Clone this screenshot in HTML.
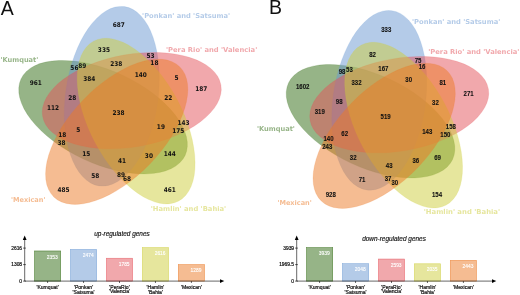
<!DOCTYPE html>
<html><head><meta charset="utf-8"><title>Venn diagrams</title>
<style>
html,body{margin:0;padding:0;background:#fff;overflow:hidden}
svg{display:block;will-change:transform;filter:blur(0.4px)}
.nA{font:bold 6.45px "DejaVu Sans Condensed","DejaVu Sans","Liberation Sans",sans-serif;fill:#111;text-anchor:middle}
.nB{font:bold 6.6px "Liberation Sans",sans-serif;fill:#111;text-anchor:middle;stroke:#111;stroke-width:0.08px}
.lab{font:bold 6.75px "DejaVu Sans","Liberation Sans",sans-serif}
.big{font:19.5px "Liberation Sans",sans-serif;fill:#111}
.ttl{font:italic 6.45px "Liberation Sans",sans-serif;fill:#111;stroke:#111;stroke-width:0.15px}
.tick{font:4.9px "Liberation Sans",sans-serif;fill:#111;stroke:#111;stroke-width:0.2px}
.val{font:4.9px "Liberation Sans",sans-serif;fill:#fff;stroke:#fff;stroke-width:0.12px}
.cat{font:5.1px "Liberation Sans",sans-serif;fill:#111;stroke:#111;stroke-width:0.2px}
</style></head><body>
<svg width="520" height="295" viewBox="0 0 520 295">
<rect width="520" height="295" fill="#fff"/>
<g>
<ellipse rx="90.51" ry="46.23" transform="translate(103.06 117.18) rotate(25)" fill="rgb(45,105,15)" fill-opacity="0.5" stroke="rgb(45,105,15)" stroke-opacity="0.3" stroke-width="0.5"/>
<ellipse rx="90.51" ry="46.23" transform="translate(111.82 96.25) rotate(98)" fill="rgb(105,152,210)" fill-opacity="0.5" stroke="rgb(105,152,210)" stroke-opacity="0.3" stroke-width="0.5"/>
<ellipse rx="90.51" ry="46.23" transform="translate(131.77 100.63) rotate(170)" fill="rgb(228,82,90)" fill-opacity="0.5" stroke="rgb(228,82,90)" stroke-opacity="0.3" stroke-width="0.5"/>
<ellipse rx="90.51" ry="46.23" transform="translate(136.15 121.07) rotate(62)" fill="rgb(205,205,60)" fill-opacity="0.5" stroke="rgb(205,205,60)" stroke-opacity="0.3" stroke-width="0.5"/>
<ellipse rx="90.51" ry="46.23" transform="translate(116.69 131.78) rotate(134)" fill="rgb(235,122,38)" fill-opacity="0.5" stroke="rgb(235,122,38)" stroke-opacity="0.3" stroke-width="0.5"/>
</g>
<g>
<ellipse rx="90.51" ry="46.23" transform="translate(370.53 121.22) rotate(25)" fill="rgb(45,105,15)" fill-opacity="0.5" stroke="rgb(45,105,15)" stroke-opacity="0.3" stroke-width="0.5"/>
<ellipse rx="90.51" ry="46.23" transform="translate(379.29 100.29) rotate(98)" fill="rgb(105,152,210)" fill-opacity="0.5" stroke="rgb(105,152,210)" stroke-opacity="0.3" stroke-width="0.5"/>
<ellipse rx="90.51" ry="46.23" transform="translate(399.24 104.67) rotate(170)" fill="rgb(228,82,90)" fill-opacity="0.5" stroke="rgb(228,82,90)" stroke-opacity="0.3" stroke-width="0.5"/>
<ellipse rx="90.51" ry="46.23" transform="translate(403.62 125.11) rotate(62)" fill="rgb(205,205,60)" fill-opacity="0.5" stroke="rgb(205,205,60)" stroke-opacity="0.3" stroke-width="0.5"/>
<ellipse rx="90.51" ry="46.23" transform="translate(384.16 135.82) rotate(134)" fill="rgb(235,122,38)" fill-opacity="0.5" stroke="rgb(235,122,38)" stroke-opacity="0.3" stroke-width="0.5"/>
</g>
<g>
<text class="lab" x="0.5" y="62.4" fill="rgb(45,105,15)" fill-opacity="0.5" textLength="37.8" lengthAdjust="spacingAndGlyphs">'Kumquat'</text>
<text class="lab" x="142.1" y="18.0" fill="rgb(105,152,210)" fill-opacity="0.5" textLength="88.0" lengthAdjust="spacingAndGlyphs">'Ponkan' and 'Satsuma'</text>
<text class="lab" x="166.0" y="52.1" fill="rgb(228,82,90)" fill-opacity="0.5" textLength="91.2" lengthAdjust="spacingAndGlyphs">'Pera Rio' and 'Valencia'</text>
<text class="lab" x="150.8" y="211.0" fill="rgb(205,205,60)" fill-opacity="0.5" textLength="75.4" lengthAdjust="spacingAndGlyphs">'Hamlin' and 'Bahia'</text>
<text class="lab" x="11.0" y="201.9" fill="rgb(235,122,38)" fill-opacity="0.5" textLength="34.4" lengthAdjust="spacingAndGlyphs">'Mexican'</text>
<text class="lab" x="256.9" y="131.1" fill="rgb(45,105,15)" fill-opacity="0.5" textLength="38.0" lengthAdjust="spacingAndGlyphs">'Kumquat'</text>
<text class="lab" x="412.0" y="23.7" fill="rgb(105,152,210)" fill-opacity="0.5" textLength="88.3" lengthAdjust="spacingAndGlyphs">'Ponkan' and 'Satsuma'</text>
<text class="lab" x="428.2" y="54.3" fill="rgb(228,82,90)" fill-opacity="0.5" textLength="91.2" lengthAdjust="spacingAndGlyphs">'Pera Rio' and 'Valencia'</text>
<text class="lab" x="423.7" y="213.5" fill="rgb(205,205,60)" fill-opacity="0.5" textLength="76.4" lengthAdjust="spacingAndGlyphs">'Hamlin' and 'Bahia'</text>
<text class="lab" x="277.4" y="204.7" fill="rgb(235,122,38)" fill-opacity="0.5" textLength="34.4" lengthAdjust="spacingAndGlyphs">'Mexican'</text>
<text class="nA" transform="translate(118.7 26.6) scale(1.0 1)">687</text>
<text class="nA" transform="translate(103.9 52.1) scale(1.0 1)">335</text>
<text class="nA" transform="translate(150.6 57.9) scale(1.0 1)">53</text>
<text class="nA" transform="translate(154.4 64.9) scale(1.0 1)">18</text>
<text class="nA" transform="translate(74.4 69.7) scale(1.0 1)">56</text>
<text class="nA" transform="translate(82.2 67.8) scale(1.0 1)">89</text>
<text class="nA" transform="translate(116.3 65.9) scale(1.0 1)">238</text>
<text class="nA" transform="translate(140.7 77.4) scale(1.0 1)">140</text>
<text class="nA" transform="translate(176.4 80.4) scale(1.0 1)">5</text>
<text class="nA" transform="translate(201.2 91.4) scale(1.0 1)">187</text>
<text class="nA" transform="translate(35.8 85.4) scale(1.0 1)">961</text>
<text class="nA" transform="translate(89.3 80.6) scale(1.0 1)">384</text>
<text class="nA" transform="translate(72.3 100.2) scale(1.0 1)">28</text>
<text class="nA" transform="translate(168.2 100.0) scale(1.0 1)">22</text>
<text class="nA" transform="translate(53.1 109.7) scale(1.0 1)">112</text>
<text class="nA" transform="translate(118.6 114.6) scale(1.0 1)">238</text>
<text class="nA" transform="translate(183.5 125.3) scale(1.0 1)">143</text>
<text class="nA" transform="translate(160.9 129.1) scale(1.0 1)">19</text>
<text class="nA" transform="translate(178.2 133.2) scale(1.0 1)">175</text>
<text class="nA" transform="translate(78.2 131.6) scale(1.0 1)">5</text>
<text class="nA" transform="translate(62.3 136.9) scale(1.0 1)">18</text>
<text class="nA" transform="translate(61.6 145.2) scale(1.0 1)">38</text>
<text class="nA" transform="translate(86.3 155.8) scale(1.0 1)">15</text>
<text class="nA" transform="translate(122.1 163.2) scale(1.0 1)">41</text>
<text class="nA" transform="translate(148.9 158.2) scale(1.0 1)">30</text>
<text class="nA" transform="translate(169.7 155.7) scale(1.0 1)">144</text>
<text class="nA" transform="translate(95.2 177.6) scale(1.0 1)">58</text>
<text class="nA" transform="translate(121.1 176.6) scale(1.0 1)">89</text>
<text class="nA" transform="translate(127.1 180.9) scale(1.0 1)">68</text>
<text class="nA" transform="translate(63.6 192.0) scale(1.0 1)">485</text>
<text class="nA" transform="translate(169.7 192.0) scale(1.0 1)">461</text>
<text class="nB" transform="translate(386.3 31.7) scale(0.92 1)">333</text>
<text class="nB" transform="translate(372.6 56.9) scale(0.92 1)">82</text>
<text class="nB" transform="translate(418.1 62.7) scale(0.92 1)">75</text>
<text class="nB" transform="translate(422.0 69.4) scale(0.92 1)">16</text>
<text class="nB" transform="translate(342.0 74.3) scale(0.92 1)">98</text>
<text class="nB" transform="translate(349.4 72.2) scale(0.92 1)">53</text>
<text class="nB" transform="translate(383.4 70.5) scale(0.92 1)">167</text>
<text class="nB" transform="translate(408.7 81.9) scale(0.92 1)">30</text>
<text class="nB" transform="translate(442.8 84.8) scale(0.92 1)">81</text>
<text class="nB" transform="translate(468.6 96.0) scale(0.92 1)">271</text>
<text class="nB" transform="translate(302.7 89.4) scale(0.92 1)">1602</text>
<text class="nB" transform="translate(356.5 85.1) scale(0.92 1)">332</text>
<text class="nB" transform="translate(339.2 104.4) scale(0.92 1)">98</text>
<text class="nB" transform="translate(435.4 104.5) scale(0.92 1)">32</text>
<text class="nB" transform="translate(319.8 114.2) scale(0.92 1)">319</text>
<text class="nB" transform="translate(385.6 118.9) scale(0.92 1)">519</text>
<text class="nB" transform="translate(450.9 129.4) scale(0.92 1)">158</text>
<text class="nB" transform="translate(427.3 133.9) scale(0.92 1)">143</text>
<text class="nB" transform="translate(445.4 137.1) scale(0.92 1)">150</text>
<text class="nB" transform="translate(344.7 135.5) scale(0.92 1)">62</text>
<text class="nB" transform="translate(328.5 141.3) scale(0.92 1)">140</text>
<text class="nB" transform="translate(327.3 149.4) scale(0.92 1)">243</text>
<text class="nB" transform="translate(353.2 160.4) scale(0.92 1)">32</text>
<text class="nB" transform="translate(389.2 167.5) scale(0.92 1)">43</text>
<text class="nB" transform="translate(415.8 162.5) scale(0.92 1)">36</text>
<text class="nB" transform="translate(437.6 160.2) scale(0.92 1)">69</text>
<text class="nB" transform="translate(362.0 182.0) scale(0.92 1)">71</text>
<text class="nB" transform="translate(388.1 181.3) scale(0.92 1)">37</text>
<text class="nB" transform="translate(394.8 185.4) scale(0.92 1)">30</text>
<text class="nB" transform="translate(330.8 196.7) scale(0.92 1)">928</text>
<text class="nB" transform="translate(437.0 196.7) scale(0.92 1)">154</text>
<text class="big" x="0.8" y="14.7">A</text>
<text class="big" x="269.1" y="14.2">B</text>
<text class="ttl" x="122.0" y="236.0" text-anchor="middle">up-regulated genes</text>
<line x1="23.099999999999998" y1="248.10000000000002" x2="25.9" y2="248.10000000000002" stroke="#000" stroke-width="0.6"/>
<text class="tick" x="22.099999999999998" y="249.85000000000002" text-anchor="end">2616</text>
<line x1="23.099999999999998" y1="264.6" x2="25.9" y2="264.6" stroke="#000" stroke-width="0.6"/>
<text class="tick" x="22.099999999999998" y="266.35" text-anchor="end">1308</text>
<line x1="23.099999999999998" y1="281.1" x2="25.9" y2="281.1" stroke="#000" stroke-width="0.6"/>
<text class="tick" x="22.099999999999998" y="282.85" text-anchor="end">0</text>
<rect x="34.50" y="250.97" width="26.2" height="30.13" fill="rgb(45,105,15)" fill-opacity="0.5" stroke="rgb(45,105,15)" stroke-opacity="0.75" stroke-width="0.6"/>
<text class="val" x="57.70" y="258.57" text-anchor="end">2353</text>
<line x1="47.60" y1="281.1" x2="47.60" y2="283.0" stroke="#000" stroke-width="0.6"/>
<text class="cat" x="47.60" y="288.50" text-anchor="middle">'Kumquat'</text>
<rect x="70.45" y="249.42" width="26.2" height="31.68" fill="rgb(105,152,210)" fill-opacity="0.5" stroke="rgb(105,152,210)" stroke-opacity="0.75" stroke-width="0.6"/>
<text class="val" x="93.65" y="257.02" text-anchor="end">2474</text>
<line x1="83.55" y1="281.1" x2="83.55" y2="283.0" stroke="#000" stroke-width="0.6"/>
<text class="cat" x="83.55" y="289.40" text-anchor="middle">'Ponkan'</text>
<text class="cat" x="83.55" y="294.10" text-anchor="middle">'Satsuma'</text>
<rect x="106.40" y="258.24" width="26.2" height="22.86" fill="rgb(228,82,90)" fill-opacity="0.5" stroke="rgb(228,82,90)" stroke-opacity="0.75" stroke-width="0.6"/>
<text class="val" x="129.60" y="265.84" text-anchor="end">1785</text>
<line x1="119.50" y1="281.1" x2="119.50" y2="283.0" stroke="#000" stroke-width="0.6"/>
<text class="cat" x="119.50" y="288.60" text-anchor="middle">'PeraRio'</text>
<text class="cat" x="119.50" y="293.30" text-anchor="middle">'Valencia'</text>
<rect x="142.35" y="247.60" width="26.2" height="33.50" fill="rgb(205,205,60)" fill-opacity="0.5" stroke="rgb(205,205,60)" stroke-opacity="0.75" stroke-width="0.6"/>
<text class="val" x="165.55" y="255.20" text-anchor="end">2616</text>
<line x1="155.45" y1="281.1" x2="155.45" y2="283.0" stroke="#000" stroke-width="0.6"/>
<text class="cat" x="155.45" y="288.80" text-anchor="middle">'Hamlin'</text>
<text class="cat" x="155.45" y="293.50" text-anchor="middle">'Bahia'</text>
<rect x="178.30" y="264.59" width="26.2" height="16.51" fill="rgb(235,122,38)" fill-opacity="0.5" stroke="rgb(235,122,38)" stroke-opacity="0.75" stroke-width="0.6"/>
<text class="val" x="201.50" y="272.19" text-anchor="end">1289</text>
<line x1="191.40" y1="281.1" x2="191.40" y2="283.0" stroke="#000" stroke-width="0.6"/>
<text class="cat" x="191.40" y="288.80" text-anchor="middle">'Mexican'</text>
<path d="M24.7 238.6 V281.1 H221.2" fill="none" stroke="#000" stroke-width="0.6"/>
<path d="M22.8 239.9 L24.7 235.6 L26.599999999999998 239.9Z" fill="#000"/>
<path d="M220.0 279.20000000000005 L224.29999999999998 281.1 L220.0 283.0Z" fill="#000"/>
<text class="ttl" x="394.0" y="240.6" text-anchor="middle">down-regulated genes</text>
<line x1="295.09999999999997" y1="248.10000000000002" x2="297.9" y2="248.10000000000002" stroke="#000" stroke-width="0.6"/>
<text class="tick" x="294.09999999999997" y="249.85000000000002" text-anchor="end">3939</text>
<line x1="295.09999999999997" y1="264.6" x2="297.9" y2="264.6" stroke="#000" stroke-width="0.6"/>
<text class="tick" x="294.09999999999997" y="266.35" text-anchor="end">1969.5</text>
<line x1="295.09999999999997" y1="281.1" x2="297.9" y2="281.1" stroke="#000" stroke-width="0.6"/>
<text class="tick" x="294.09999999999997" y="282.85" text-anchor="end">0</text>
<rect x="306.50" y="247.60" width="26.2" height="33.50" fill="rgb(45,105,15)" fill-opacity="0.5" stroke="rgb(45,105,15)" stroke-opacity="0.75" stroke-width="0.6"/>
<text class="val" x="329.70" y="255.20" text-anchor="end">3939</text>
<line x1="319.60" y1="281.1" x2="319.60" y2="283.0" stroke="#000" stroke-width="0.6"/>
<text class="cat" x="319.60" y="288.50" text-anchor="middle">'Kumquat'</text>
<rect x="342.45" y="263.68" width="26.2" height="17.42" fill="rgb(105,152,210)" fill-opacity="0.5" stroke="rgb(105,152,210)" stroke-opacity="0.75" stroke-width="0.6"/>
<text class="val" x="365.65" y="271.28" text-anchor="end">2048</text>
<line x1="355.55" y1="281.1" x2="355.55" y2="283.0" stroke="#000" stroke-width="0.6"/>
<text class="cat" x="355.55" y="289.40" text-anchor="middle">'Ponkan'</text>
<text class="cat" x="355.55" y="294.10" text-anchor="middle">'Satsuma'</text>
<rect x="378.40" y="259.05" width="26.2" height="22.05" fill="rgb(228,82,90)" fill-opacity="0.5" stroke="rgb(228,82,90)" stroke-opacity="0.75" stroke-width="0.6"/>
<text class="val" x="401.60" y="266.65" text-anchor="end">2593</text>
<line x1="391.50" y1="281.1" x2="391.50" y2="283.0" stroke="#000" stroke-width="0.6"/>
<text class="cat" x="391.50" y="288.60" text-anchor="middle">'PeraRio'</text>
<text class="cat" x="391.50" y="293.30" text-anchor="middle">'Valencia'</text>
<rect x="414.35" y="263.79" width="26.2" height="17.31" fill="rgb(205,205,60)" fill-opacity="0.5" stroke="rgb(205,205,60)" stroke-opacity="0.75" stroke-width="0.6"/>
<text class="val" x="437.55" y="271.39" text-anchor="end">2035</text>
<line x1="427.45" y1="281.1" x2="427.45" y2="283.0" stroke="#000" stroke-width="0.6"/>
<text class="cat" x="427.45" y="288.80" text-anchor="middle">'Hamlin'</text>
<text class="cat" x="427.45" y="293.50" text-anchor="middle">'Bahia'</text>
<rect x="450.30" y="260.32" width="26.2" height="20.78" fill="rgb(235,122,38)" fill-opacity="0.5" stroke="rgb(235,122,38)" stroke-opacity="0.75" stroke-width="0.6"/>
<text class="val" x="473.50" y="267.92" text-anchor="end">2443</text>
<line x1="463.40" y1="281.1" x2="463.40" y2="283.0" stroke="#000" stroke-width="0.6"/>
<text class="cat" x="463.40" y="288.80" text-anchor="middle">'Mexican'</text>
<path d="M296.7 238.6 V281.1 H493.2" fill="none" stroke="#000" stroke-width="0.6"/>
<path d="M294.8 239.9 L296.7 235.6 L298.59999999999997 239.9Z" fill="#000"/>
<path d="M492.0 279.20000000000005 L496.29999999999995 281.1 L492.0 283.0Z" fill="#000"/>
</g>
</svg>
</body></html>
